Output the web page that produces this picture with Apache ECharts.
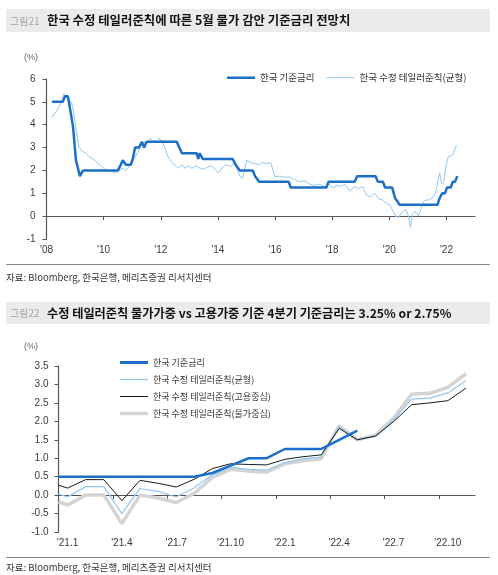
<!DOCTYPE html>
<html>
<head>
<meta charset="utf-8">
<script src="https://cdn.jsdelivr.net/npm/echarts@6/dist/echarts.min.js"></script>
<style>
  html, body { margin: 0; padding: 0; background: #fff; }
  #chart { width: 498px; height: 575px; }
</style>
</head>
<body>
<div id="chart"></div>
<script>
/****************************** 그림21 DATA ******************************/
// [decimal year, %]
const baseRateHist = [
  [2008.19, 5.0], [2008.57, 5.0], [2008.65, 5.25], [2008.75, 5.25], [2008.85, 4.5],
  [2008.93, 3.9], [2009.03, 2.45], [2009.17, 1.75], [2009.28, 2.0], [2010.5, 2.0],
  [2010.6, 2.25], [2010.67, 2.45], [2010.78, 2.25], [2010.95, 2.25], [2011.02, 2.5],
  [2011.1, 3.0], [2011.23, 3.0], [2011.34, 3.25], [2011.42, 3.0], [2011.5, 3.25],
  [2012.56, 3.25], [2012.65, 3.0], [2012.74, 2.75], [2013.26, 2.75], [2013.31, 2.5],
  [2013.36, 2.75], [2013.47, 2.5], [2014.52, 2.5], [2014.62, 2.25], [2014.77, 2.0],
  [2015.22, 2.0], [2015.3, 1.75], [2015.45, 1.5], [2016.48, 1.5], [2016.55, 1.25],
  [2017.8, 1.25], [2017.87, 1.5], [2018.79, 1.5], [2018.87, 1.75], [2019.52, 1.75],
  [2019.6, 1.5], [2019.78, 1.5], [2019.85, 1.25], [2020.1, 1.25], [2020.2, 0.8],
  [2020.36, 0.5], [2021.69, 0.5], [2021.75, 0.75], [2021.85, 1.0], [2021.95, 1.0],
  [2022.02, 1.25], [2022.15, 1.25], [2022.22, 1.5], [2022.3, 1.5], [2022.38, 1.75]
]
const taylorHist = [
  [2008.19, 4.3], [2008.4, 4.7], [2008.54, 5.05], [2008.61, 5.35], [2008.68, 5.2],
  [2008.75, 5.25], [2008.86, 5.0], [2008.93, 4.7], [2009.0, 4.1], [2009.07, 3.5],
  [2009.14, 3.0], [2009.24, 2.85], [2009.38, 2.75], [2009.49, 2.6], [2009.63, 2.5],
  [2009.77, 2.35], [2009.91, 2.2], [2010.05, 2.05], [2010.15, 1.95], [2010.26, 2.0],
  [2010.36, 1.9], [2010.5, 1.95], [2010.64, 2.1], [2010.78, 2.0], [2010.92, 2.2],
  [2011.06, 2.5], [2011.2, 2.8], [2011.3, 3.05], [2011.41, 3.25], [2011.51, 3.2],
  [2011.62, 3.4], [2011.72, 3.3], [2011.83, 3.2], [2011.93, 3.4], [2012.04, 3.3],
  [2012.14, 3.0], [2012.25, 2.6], [2012.39, 2.35], [2012.53, 2.2], [2012.63, 2.1],
  [2012.74, 2.25], [2012.84, 2.1], [2012.98, 2.2], [2013.09, 2.1], [2013.23, 2.2],
  [2013.37, 2.1], [2013.51, 2.05], [2013.65, 2.15], [2013.79, 2.2], [2013.93, 2.0],
  [2014.03, 1.9], [2014.17, 2.15], [2014.31, 2.25], [2014.45, 2.15], [2014.56, 2.35],
  [2014.66, 2.1], [2014.77, 1.75], [2014.87, 1.65], [2015.01, 2.45], [2015.15, 2.35],
  [2015.29, 2.3], [2015.43, 2.25], [2015.57, 2.35], [2015.71, 2.3], [2015.85, 2.35],
  [2015.92, 2.4], [2015.99, 1.72], [2016.17, 1.75], [2016.34, 1.7], [2016.51, 1.72],
  [2016.69, 1.6], [2016.86, 1.5], [2017.04, 1.55], [2017.21, 1.4], [2017.39, 1.35],
  [2017.56, 1.4], [2017.74, 1.3], [2017.91, 1.4], [2018.02, 1.23], [2018.16, 1.35],
  [2018.3, 1.3], [2018.44, 1.4], [2018.61, 1.1], [2018.79, 1.3], [2018.93, 1.2],
  [2019.07, 1.3], [2019.21, 0.9], [2019.35, 0.85], [2019.49, 1.0], [2019.63, 0.75],
  [2019.77, 0.7], [2019.91, 0.55], [2020.01, 0.5], [2020.12, 0.25], [2020.22, 0.0],
  [2020.33, -0.05], [2020.43, 0.15], [2020.57, 0.3], [2020.67, 0.0], [2020.74, -0.5],
  [2020.81, 0.1], [2020.92, 0.2], [2021.02, 0.0], [2021.13, 0.4], [2021.23, 0.7],
  [2021.37, 0.7], [2021.51, 0.8], [2021.62, 1.0], [2021.69, 1.45], [2021.76, 1.9],
  [2021.83, 1.4], [2021.9, 1.5], [2022.0, 2.3], [2022.07, 2.6], [2022.18, 2.65],
  [2022.25, 2.75], [2022.35, 3.1]
]
const yearTicks = [2008, 2010, 2012, 2014, 2016, 2018, 2020, 2022]

/****************************** 그림22 DATA ******************************/
// month position on the axis: 0 = start of '21.1, 0.5 = middle of '21.1 ...
const monthPos = [0, 0.5, 1.5, 2.5, 3.5, 4.5, 5.5, 6.5, 7.5, 8.5, 9.5, 10.5, 11.5,
  12.5, 13.5, 14.5, 15.5, 16.5, 17.5, 18.5, 19.5, 20.5, 21.5, 22.5]
const baseRate = [0.5, 0.5, 0.5, 0.5, 0.5, 0.5, 0.5, 0.5, 0.5, 0.6, 0.8, 1.0, 1.0,
  1.25, 1.25, 1.25, 1.5, 1.75, null, null, null, null, null, null]
const taylorBalanced = [0.03, -0.05, 0.23, 0.23, -0.5, 0.18, 0.1, -0.05, 0.2, 0.55, 0.75, 0.7, 0.68,
  0.88, 0.98, 1.03, 1.85, 1.5, 1.6, 2.03, 2.6, 2.63, 2.77, 3.1]
const taylorEmployment = [0.27, 0.19, 0.42, 0.42, -0.15, 0.4, 0.32, 0.22, 0.43, 0.72, 0.85, 0.83, 0.82,
  0.97, 1.04, 1.09, 1.81, 1.5, 1.6, 1.99, 2.45, 2.5, 2.56, 2.9]
const taylorInflation = [-0.18, -0.27, 0.0, 0.0, -0.77, 0.0, -0.08, -0.2, 0.05, 0.48, 0.7, 0.65, 0.62,
  0.85, 0.93, 0.98, 1.88, 1.5, 1.62, 2.08, 2.74, 2.76, 2.92, 3.29]
const monthTickPos = [0, 3, 6, 9, 12, 15, 18, 21]
const monthLabelPos = [0.5, 3.5, 6.5, 9.5, 12.5, 15.5, 18.5, 21.5]
const monthLabels = ["'21.1", "'21.4", "'21.7", "'21.10", "'22.1", "'22.4", "'22.7", "'22.10"]

/****************************** STYLE ******************************/
const FONT = "'Liberation Sans', 'Noto Sans CJK KR', sans-serif"
const KFONT = "'Noto Sans CJK KR', sans-serif"
const BLUE = '#1b6fc6'
const LIGHT = '#93c7f2'
const BLACK = '#1a1a1a'
const GREY = '#d4d4d4'
const AXIS = '#555'
const LABEL = '#3a3a3a'

const pair = (xs, ys) => xs.map((x, i) => [x, ys[i]]).filter((p) => p[1] !== null)

const text = (x, y, str, size, color, weight, family) => ({
  type: 'text',
  x,
  y,
  style: {
    text: str,
    fontSize: size,
    fontWeight: weight || 'normal',
    fontFamily: family || KFONT,
    fill: color,
    verticalAlign: 'middle'
  }
})

// legend entry drawn as a 28px bar of thickness h (kept in aspect)
const legendItem = (name, color, h) => ({
  name,
  icon: 'path://M0,0H28V' + h + 'H0Z',
  itemStyle: { color }
})

/****************************** CHART ******************************/
const chart = echarts.init(document.getElementById('chart'), null, { renderer: 'canvas' })

const option = {
  backgroundColor: '#fff',
  animation: false,
  textStyle: { fontFamily: FONT },
  graphic: [
    { type: 'rect', shape: { x: 6, y: 9, width: 484, height: 23 }, style: { fill: '#ebebeb' } },
    text(10, 21, '그림21', 10, '#a5a5a5'),
    text(47, 20.5, '한국 수정 테일러준칙에 따른 5월 물가 감안 기준금리 전망치', 12.4, '#111', 'bold'),
    text(24, 58, '(%)', 9, '#666', 'normal', FONT),
    { type: 'line', shape: { x1: 6, y1: 264.5, x2: 490, y2: 264.5 }, style: { stroke: '#8a8a8a', lineWidth: 1 } },
    text(6, 277, '자료: Bloomberg, 한국은행, 메리츠증권 리서치센터', 9.5, '#333'),
    { type: 'rect', shape: { x: 6, y: 302, width: 484, height: 22 }, style: { fill: '#ebebeb' } },
    text(10, 313.5, '그림22', 10, '#a5a5a5'),
    text(47, 313, '수정 테일러준칙 물가가중 vs 고용가중 기준 4분기 기준금리는 3.25% or 2.75%', 12.2, '#111', 'bold'),
    text(24, 347, '(%)', 9, '#666', 'normal', FONT),
    { type: 'line', shape: { x1: 6, y1: 557.5, x2: 490, y2: 557.5 }, style: { stroke: '#8a8a8a', lineWidth: 1 } },
    text(6, 567, '자료: Bloomberg, 한국은행, 메리츠증권 리서치센터', 9.5, '#333')
  ],
  legend: [
    {
      left: 227,
      top: 73,
      padding: 0,
      itemWidth: 28,
      itemHeight: 10,
      itemGap: 12,
      textStyle: { fontFamily: KFONT, fontSize: 9.5, color: '#333' },
      data: [
        legendItem('한국 기준금리', BLUE, 2.5),
        legendItem('한국 수정 테일러준칙(균형)', LIGHT, 1)
      ]
    },
    {
      left: 120,
      top: 358,
      orient: 'vertical',
      padding: 0,
      itemWidth: 28,
      itemHeight: 10,
      itemGap: 8,
      textStyle: { fontFamily: KFONT, fontSize: 9, color: '#333' },
      data: [
        legendItem('한국 기준금리 ', BLUE, 3),
        legendItem('한국 수정 테일러준칙(균형) ', LIGHT, 1.2),
        legendItem('한국 수정 테일러준칙(고용중심)', BLACK, 1),
        legendItem('한국 수정 테일러준칙(물가중심)', GREY, 3.5)
      ]
    }
  ],
  grid: [
    { left: 46.5, top: 79, width: 428.5, height: 160 },
    { left: 58.5, top: 366, width: 416.5, height: 166 }
  ],
  xAxis: [
    {
      gridIndex: 0,
      type: 'value',
      min: 2008,
      max: 2023,
      splitLine: { show: false },
      axisLine: { onZero: true, lineStyle: { color: AXIS, width: 1.2 } },
      axisTick: { show: true, length: 4, customValues: yearTicks, lineStyle: { color: AXIS } },
      axisLabel: {
        customValues: yearTicks,
        margin: 6,
        fontSize: 10,
        color: LABEL,
        formatter: (v) => "'" + String(v).slice(2)
      }
    },
    {
      gridIndex: 1,
      type: 'value',
      min: 0,
      max: 23,
      splitLine: { show: false },
      axisLine: { onZero: true, lineStyle: { color: AXIS, width: 1.2 } },
      axisTick: { show: true, length: 4, customValues: monthTickPos, lineStyle: { color: AXIS } },
      axisLabel: {
        customValues: monthLabelPos,
        margin: 6,
        fontSize: 10,
        color: LABEL,
        formatter: (v) => monthLabels[monthLabelPos.indexOf(v)]
      }
    }
  ],
  yAxis: [
    {
      gridIndex: 0,
      type: 'value',
      min: -1,
      max: 6,
      interval: 1,
      splitLine: { show: false },
      axisLine: { show: true, lineStyle: { color: AXIS, width: 1.2 } },
      axisTick: { show: true, length: 4, lineStyle: { color: AXIS } },
      axisLabel: { margin: 11, fontSize: 10, color: LABEL }
    },
    {
      gridIndex: 1,
      type: 'value',
      min: -1,
      max: 3.5,
      interval: 0.5,
      splitLine: { show: false },
      axisLine: { show: true, lineStyle: { color: AXIS, width: 1.2 } },
      axisTick: { show: true, length: 4, lineStyle: { color: AXIS } },
      axisLabel: { margin: 10, fontSize: 10, color: LABEL, formatter: (v) => v.toFixed(1) }
    }
  ],
  series: [
    {
      name: '한국 수정 테일러준칙(균형)',
      type: 'line',
      xAxisIndex: 0,
      yAxisIndex: 0,
      symbol: 'none',
      color: LIGHT,
      lineStyle: { width: 1, color: LIGHT },
      data: taylorHist,
      z: 2
    },
    {
      name: '한국 기준금리',
      type: 'line',
      xAxisIndex: 0,
      yAxisIndex: 0,
      symbol: 'none',
      color: BLUE,
      lineStyle: { width: 2.5, color: BLUE },
      data: baseRateHist,
      z: 3
    },
    {
      name: '한국 수정 테일러준칙(물가중심)',
      type: 'line',
      xAxisIndex: 1,
      yAxisIndex: 1,
      symbol: 'none',
      color: GREY,
      lineStyle: { width: 3.5, color: GREY },
      data: pair(monthPos, taylorInflation),
      z: 2
    },
    {
      name: '한국 수정 테일러준칙(균형) ',
      type: 'line',
      xAxisIndex: 1,
      yAxisIndex: 1,
      symbol: 'none',
      color: LIGHT,
      lineStyle: { width: 1.2, color: LIGHT },
      data: pair(monthPos, taylorBalanced),
      z: 3
    },
    {
      name: '한국 수정 테일러준칙(고용중심)',
      type: 'line',
      xAxisIndex: 1,
      yAxisIndex: 1,
      symbol: 'none',
      color: BLACK,
      lineStyle: { width: 1, color: BLACK },
      data: pair(monthPos, taylorEmployment),
      z: 4
    },
    {
      name: '한국 기준금리 ',
      type: 'line',
      xAxisIndex: 1,
      yAxisIndex: 1,
      symbol: 'none',
      color: BLUE,
      lineStyle: { width: 2.5, color: BLUE },
      data: pair(monthPos, baseRate),
      z: 5
    }
  ]
}

chart.setOption(option)
</script>
</body>
</html>
